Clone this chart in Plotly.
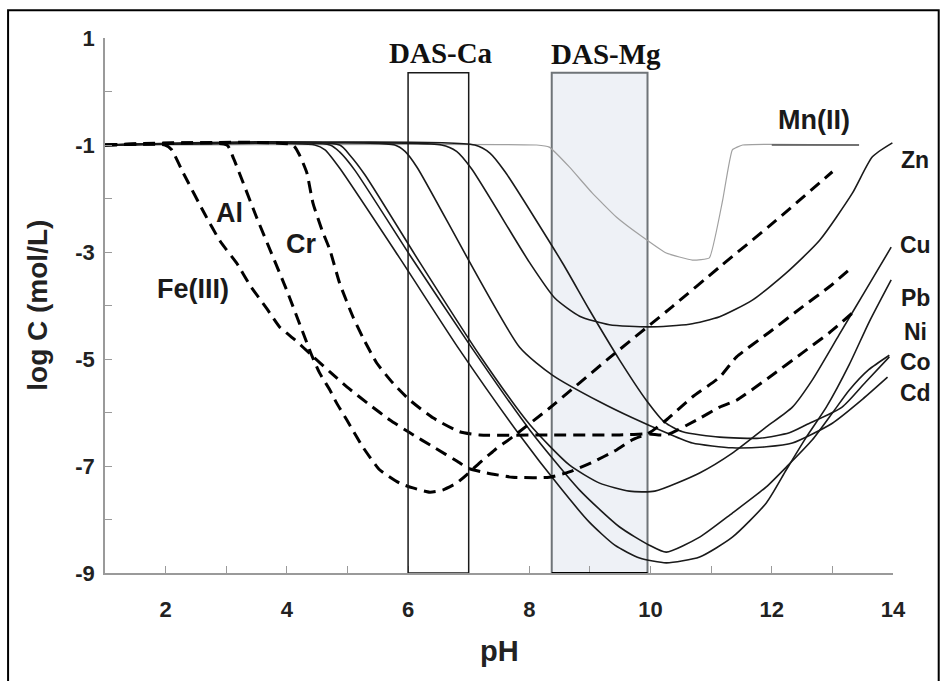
import plotly.graph_objects as go

# ---------------- data ----------------
ph_fe = [1.0, 1.99, 2.10, 2.29, 2.65, 2.90, 3.18, 3.39, 3.67, 3.88, 4.13, 4.41, 4.71, 4.99, 5.37, 5.70, 6.03, 6.41, 6.85, 6.98, 7.30, 7.72, 8.33, 8.66, 9.04, 9.44, 9.70, 9.98, 10.26, 10.69, 11.14, 11.42, 11.96, 12.50, 12.95, 13.33]
lc_fe = [-1, -1, -1.09, -1.52, -2.30, -2.80, -3.22, -3.62, -4.06, -4.40, -4.64, -4.93, -5.24, -5.52, -5.86, -6.14, -6.38, -6.64, -6.94, -7.04, -7.13, -7.21, -7.21, -7.11, -6.93, -6.70, -6.51, -6.38, -6.14, -5.71, -5.34, -4.96, -4.50, -4.03, -3.65, -3.28]

ph_al = [1.0, 3.01, 3.12, 3.50, 4.00, 4.41, 4.54, 4.71, 4.82, 4.99, 5.25, 5.53, 5.86, 6.08, 6.36, 6.57, 6.80, 6.98, 7.18, 7.43, 7.72, 8.33, 9.32, 10.36, 11.14, 12.06, 13.0]
lc_al = [-1, -1, -1.25, -2.35, -3.72, -4.93, -5.26, -5.58, -5.82, -6.14, -6.64, -7.07, -7.32, -7.41, -7.49, -7.45, -7.32, -7.15, -6.94, -6.70, -6.46, -5.92, -4.98, -4.02, -3.28, -2.42, -1.50]

ph_cr = [1.0, 4.10, 4.21, 4.33, 4.43, 4.58, 4.71, 4.87, 5.09, 5.25, 5.48, 5.75, 6.03, 6.41, 6.85, 7.18, 8.33, 9.49, 9.98, 10.26, 10.76, 11.14, 11.42, 11.96, 12.50, 12.95, 13.33]
lc_cr = [-1, -1, -1.19, -1.52, -2.08, -2.59, -2.96, -3.58, -4.21, -4.59, -5.07, -5.45, -5.77, -6.10, -6.36, -6.42, -6.42, -6.42, -6.40, -6.42, -6.14, -5.90, -5.77, -5.34, -4.89, -4.51, -4.14]

ph_zn = [1.0, 6.55, 6.80, 7.05, 8.0, 8.42, 8.83, 9.32, 9.98, 10.64, 11.14, 11.68, 12.24, 12.79, 13.33, 13.66, 13.99]
lc_zn = [-1, -1, -1.12, -1.45, -3.19, -3.86, -4.20, -4.36, -4.40, -4.35, -4.21, -3.90, -3.39, -2.78, -1.90, -1.22, -0.96]

ph_cu = [1.0, 4.87, 5.04, 5.29, 6.19, 7.18, 8.01, 8.66, 9.16, 9.65, 10.07, 10.81, 11.35, 11.91, 12.34, 12.67, 13.11, 13.53, 13.97]
lc_cu = [-1, -1, -1.19, -1.56, -3.19, -4.93, -6.23, -6.98, -7.32, -7.47, -7.47, -7.13, -6.76, -6.27, -5.90, -5.39, -4.55, -3.75, -2.91]

ph_pb = [1.0, 4.46, 4.63, 4.87, 5.86, 6.85, 7.84, 8.50, 8.99, 9.41, 9.82, 10.26, 10.81, 11.35, 11.91, 12.24, 12.57, 12.90, 13.28, 13.61, 13.97]
lc_pb = [-1, -1, -1.09, -1.43, -3.11, -4.83, -6.42, -7.39, -8.05, -8.48, -8.72, -8.81, -8.70, -8.33, -7.69, -7.07, -6.46, -5.90, -5.10, -4.30, -3.52]

ph_ni = [1.0, 4.71, 4.87, 5.12, 6.03, 7.02, 8.01, 8.83, 9.49, 9.98, 10.26, 10.81, 11.35, 11.91, 12.24, 12.67, 13.0, 13.28, 13.60, 13.94]
lc_ni = [-1, -1, -1.13, -1.47, -3.06, -4.74, -6.33, -7.45, -8.14, -8.48, -8.61, -8.33, -7.88, -7.39, -7.02, -6.51, -6.01, -5.58, -5.20, -4.93]

ph_co = [1.0, 7.10, 7.35, 7.60, 8.55, 8.99, 9.49, 9.93, 10.23, 10.53, 11.14, 11.80, 12.29, 12.57, 13.16, 13.55, 13.94]
lc_co = [-1, -1, -1.15, -1.50, -3.21, -4.08, -5.02, -5.77, -6.18, -6.36, -6.46, -6.48, -6.38, -6.23, -5.90, -5.43, -4.96]

ph_cd = [1.0, 5.78, 5.95, 6.15, 7.84, 8.38, 9.16, 9.70, 10.26, 10.69, 11.35, 11.91, 12.34, 13.0, 13.50, 13.91]
lc_cd = [-1, -1, -1.12, -1.42, -4.78, -5.30, -5.80, -6.10, -6.38, -6.57, -6.66, -6.64, -6.57, -6.20, -5.75, -5.34]

ph_mn = [1.0, 8.12, 8.33, 8.66, 9.04, 9.44, 9.87, 10.26, 10.69, 10.97, 11.19, 11.35, 11.52, 13.44]
lc_mn = [-1, -1, -1.04, -1.41, -1.90, -2.35, -2.72, -3.02, -3.15, -3.11, -2.03, -1.09, -1.0, -1.0]

das_ca = [6.0, 7.0]      # pH range
das_mg = [8.37, 9.95]    # pH range
das_top = 0.35

x_ticks = [2, 4, 6, 8, 10, 12, 14]
y_ticks = [1, -1, -3, -5, -7, -9]

labels_right = {"Zn": -1.28, "Cu": -2.87, "Pb": -3.86, "Ni": -4.50, "Co": -5.06, "Cd": -5.63}

# ---------------- figure ----------------
fig = go.Figure()

BLACK = "#1a1a1a"
fig.add_trace(go.Scatter(x=ph_mn, y=lc_mn, mode="lines",
                         line=dict(color="#a0a0a0", width=1.2, shape="spline", smoothing=0.35),
                         hoverinfo="skip"))

for xs, ys in [(ph_zn, lc_zn), (ph_cu, lc_cu), (ph_pb, lc_pb), (ph_ni, lc_ni),
               (ph_co, lc_co), (ph_cd, lc_cd)]:
    fig.add_trace(go.Scatter(x=xs, y=ys, mode="lines",
                             line=dict(color=BLACK, width=1.6, shape="spline", smoothing=0.6),
                             hoverinfo="skip"))

for xs, ys in [(ph_fe, lc_fe), (ph_al, lc_al), (ph_cr, lc_cr)]:
    fig.add_trace(go.Scatter(x=xs, y=ys, mode="lines",
                             line=dict(color="black", width=3, dash="12px,7px",
                                       shape="spline", smoothing=0.5),
                             hoverinfo="skip"))

shapes = [
    dict(type="rect", xref="x", yref="y", x0=das_mg[0], x1=das_mg[1], y0=-9, y1=das_top,
         fillcolor="#eef1f6", line=dict(color="#6f7478", width=2), layer="below"),
    dict(type="line", xref="x", yref="y", x0=das_mg[0], x1=das_mg[1], y0=-9, y1=-9,
         line=dict(color="black", width=2)),
    dict(type="rect", xref="x", yref="y", x0=das_ca[0], x1=das_ca[1], y0=-9, y1=das_top,
         line=dict(color=BLACK, width=1.5), layer="above"),
    dict(type="line", xref="x", yref="y", x0=12.0, x1=13.44, y0=-1.0, y1=-1.0,
         line=dict(color="#555", width=1.6)),
    dict(type="rect", xref="paper", yref="paper", x0=-0.123, x1=1.058, y0=-0.25, y1=1.052,
         line=dict(color="black", width=2)),
]

LBL = dict(family="Liberation Sans, Arial", size=27, color=BLACK)
RLBL = dict(family="Liberation Sans, Arial", size=23, color=BLACK)
annots = []
for name, yv in labels_right.items():
    annots.append(dict(x=1.028, y=yv, xref="paper", yref="y", text="<b>%s</b>" % name,
                       xanchor="center", yanchor="middle", showarrow=False, font=RLBL,
                       borderpad=0))
for txt, xv, yv in [("Mn(II)", 12.70, -0.53), ("Al", 3.06, -2.27), ("Cr", 4.23, -2.85),
                    ("Fe(III)", 2.45, -3.69)]:
    annots.append(dict(x=xv, y=yv, xref="x", yref="y", text="<b>%s</b>" % txt,
                       xanchor="center", yanchor="middle", showarrow=False, font=LBL))
for txt, xv, yv in [("DAS-Ca", 6.54, 0.72), ("DAS-Mg", 9.26, 0.70)]:
    annots.append(dict(x=xv, y=yv, xref="x", yref="y", text="<b>%s</b>" % txt,
                       xanchor="center", yanchor="middle", showarrow=False,
                       font=dict(family="Liberation Serif, Times New Roman", size=29, color="#111")))
annots.append(dict(x=-0.086, y=0.5, xref="paper", yref="paper", text="<b>log C (mol/L)</b>",
                   textangle=-90, xanchor="center", yanchor="middle", showarrow=False,
                   font=dict(family="Liberation Sans, Arial", size=28, color="#222")))
annots.append(dict(x=0.5, y=-0.146, xref="paper", yref="paper", text="<b>pH</b>",
                   xanchor="center", yanchor="middle", showarrow=False,
                   font=dict(family="Liberation Sans, Arial", size=29, color="#222")))

fig.update_layout(
    width=943, height=681,
    margin=dict(l=105, r=50, t=38, b=108),
    paper_bgcolor="white", plot_bgcolor="white",
    showlegend=False,
    shapes=shapes, annotations=annots,
    xaxis=dict(range=[1, 14], tickvals=x_ticks, ticktext=["<b>%d</b>" % v for v in x_ticks],
               showgrid=False, zeroline=False, showline=True, linecolor="#9a9a9a", linewidth=1.5,
               ticks="inside", ticklen=7, tickcolor="#9a9a9a", ticklabelstandoff=16,
               minor=dict(dtick=1, tick0=1, ticks="inside", ticklen=7, tickcolor="#9a9a9a"),
               tickfont=dict(family="Liberation Sans, Arial", size=22, color="#222")),
    yaxis=dict(range=[-9, 1], tickvals=y_ticks, ticktext=["<b>%d</b>" % v for v in y_ticks],
               showgrid=False, zeroline=False, showline=True, linecolor="#9a9a9a", linewidth=1.5,
               ticks="inside", ticklen=7, tickcolor="#9a9a9a", ticklabelstandoff=4,
               minor=dict(dtick=1, tick0=1, ticks="inside", ticklen=7, tickcolor="#9a9a9a"),
               tickfont=dict(family="Liberation Sans, Arial", size=22, color="#222")),
)

fig.write_html("out.html")
